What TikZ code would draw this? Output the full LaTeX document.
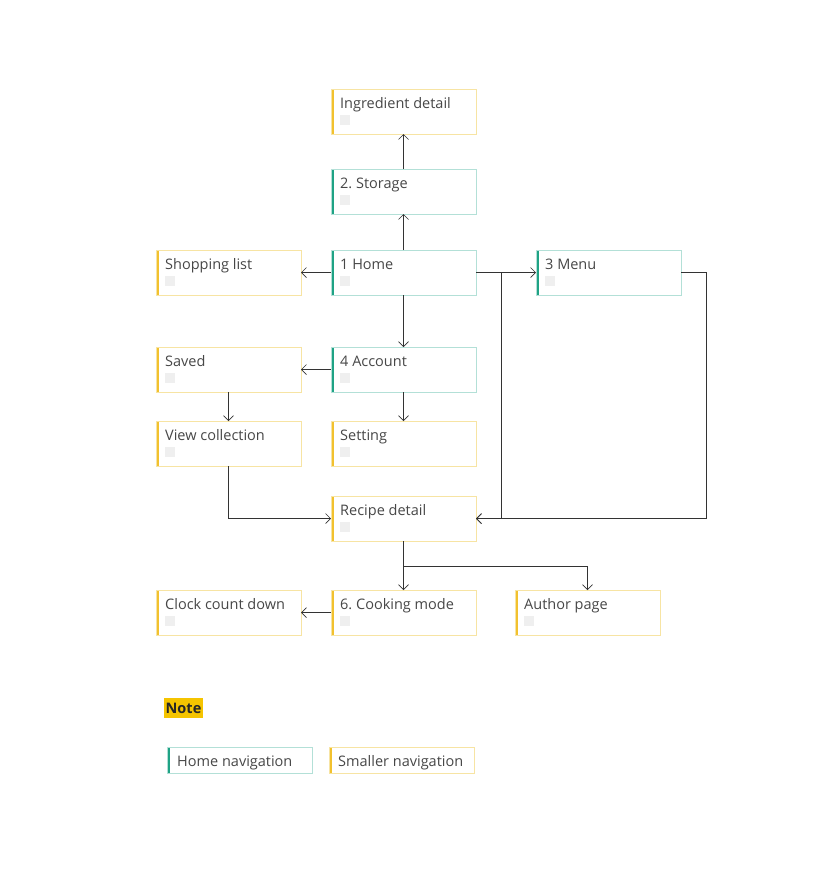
\documentclass[tikz,border=0pt]{standalone}
\usepackage{fontspec}
\setmainfont{Open Sans}
\frenchspacing
\usetikzlibrary{arrows.meta,positioning,calc}
\definecolor{tealbar}{HTML}{1FA385}
\definecolor{tealline}{HTML}{B3E0D7}
\definecolor{yelbar}{HTML}{F2C12E}
\definecolor{yelline}{HTML}{F7E4A3}
\definecolor{txt}{HTML}{474747}
\definecolor{sq}{HTML}{EFEFEF}
\definecolor{notehl}{HTML}{F5C400}
\definecolor{wire}{HTML}{333333}
\tikzset{
  card/.style={rectangle, anchor=north west, minimum width=145pt, minimum height=45pt,
    inner sep=0pt, outer sep=0pt, fill=white, draw=#1line, line width=0.8pt,
    path picture={
      \fill[#1bar] (path picture bounding box.north west) rectangle ([xshift=2.6pt]path picture bounding box.south west);
      \fill[sq] ([shift={(9pt,-26pt)}]path picture bounding box.north west) rectangle ++(10pt,-10pt);
    }},
  legend/.style={rectangle, anchor=north west, minimum width=145pt, minimum height=26pt,
    inner sep=0pt, outer sep=0pt, fill=white, draw=#1line, line width=0.8pt,
    path picture={
      \fill[#1bar] (path picture bounding box.north west) rectangle ([xshift=2.6pt]path picture bounding box.south west);
    }},
  lbl/.style={anchor=base west, inner sep=0pt, text=txt, font=\fontsize{14.5}{16}\selectfont},
  conn/.style={draw=wire, line width=0.7pt, -{Straight Barb[length=5pt,width=10pt]}},
}
\newcommand{\cardtext}[2]{\node[lbl] at ($(#1.north west)+(9,19)$) {#2};}
\begin{document}
\begin{tikzpicture}[x=1pt,y=-1pt]
\useasboundingbox (0,0) rectangle (820,876);

\node[card=yel]  (ingr)    at (331,89)  {};
\node[card=teal] (storage) at (331,169) {};
\node[card=teal] (home)    at (331,250) {};
\node[card=yel]  (shop)    at (156,250) {};
\node[card=teal] (menu)    at (536,250) {};
\node[card=yel]  (saved)   at (156,347) {};
\node[card=teal] (account) at (331,347) {};
\node[card=yel]  (view)    at (156,421) {};
\node[card=yel]  (setting) at (331,421) {};
\node[card=yel]  (recipe)  at (331,496) {};
\node[card=yel]  (clock)   at (156,590) {};
\node[card=yel]  (cooking) at (331,590) {};
\node[card=yel]  (author)  at (515,590) {};

\cardtext{ingr}{Ingredient detail}
\cardtext{storage}{2. Storage}
\cardtext{home}{1 Home}
\cardtext{shop}{Shopping list}
\cardtext{menu}{3 Menu}
\cardtext{saved}{Saved}
\cardtext{account}{4 Account}
\cardtext{view}{View collection}
\cardtext{setting}{Setting}
\cardtext{recipe}{Recipe detail}
\cardtext{clock}{Clock count down}
\cardtext{cooking}{6. Cooking mode}
\cardtext{author}{Author page}

% connectors
\draw[conn] (storage.north) -- (ingr.south);
\draw[conn] (home.north) -- (storage.south);
\draw[conn] (home.west) -- (shop.east);
\draw[conn] (home.east) -- (menu.west);
\draw[conn] (home.east) -- ++(25,0) |- (recipe.east);
\draw[conn] (menu.east) -- ++(25,0) |- (recipe.east);
\draw[conn] (home.south) -- (account.north);
\draw[conn] (account.west) -- (saved.east);
\draw[conn] (account.south) -- (setting.north);
\draw[conn] (saved.south) -- (view.north);
\draw[conn] (view.south) |- (recipe.west);
\draw[conn] (recipe.south) -- (cooking.north);
\draw[conn] (recipe.south) -- ++(0,25) -| (author.north);
\draw[conn] (cooking.west) -- (clock.east);

% note and legend
\node[anchor=north west, fill=notehl, inner xsep=1.5pt, minimum height=19.5pt, text depth=0pt,
      font=\bfseries\fontsize{14.5}{16}\selectfont, text=black!85] (note) at (164,698) {Note};
\node[legend=teal] (lhome) at (167,747) {};
\node[legend=yel]  (lsmall) at (329,747) {};
\node[lbl] at ($(lhome.north west)+(10,19)$) {Home navigation};
\node[lbl] at ($(lsmall.north west)+(9,19)$) {Smaller navigation};
\end{tikzpicture}
\end{document}
